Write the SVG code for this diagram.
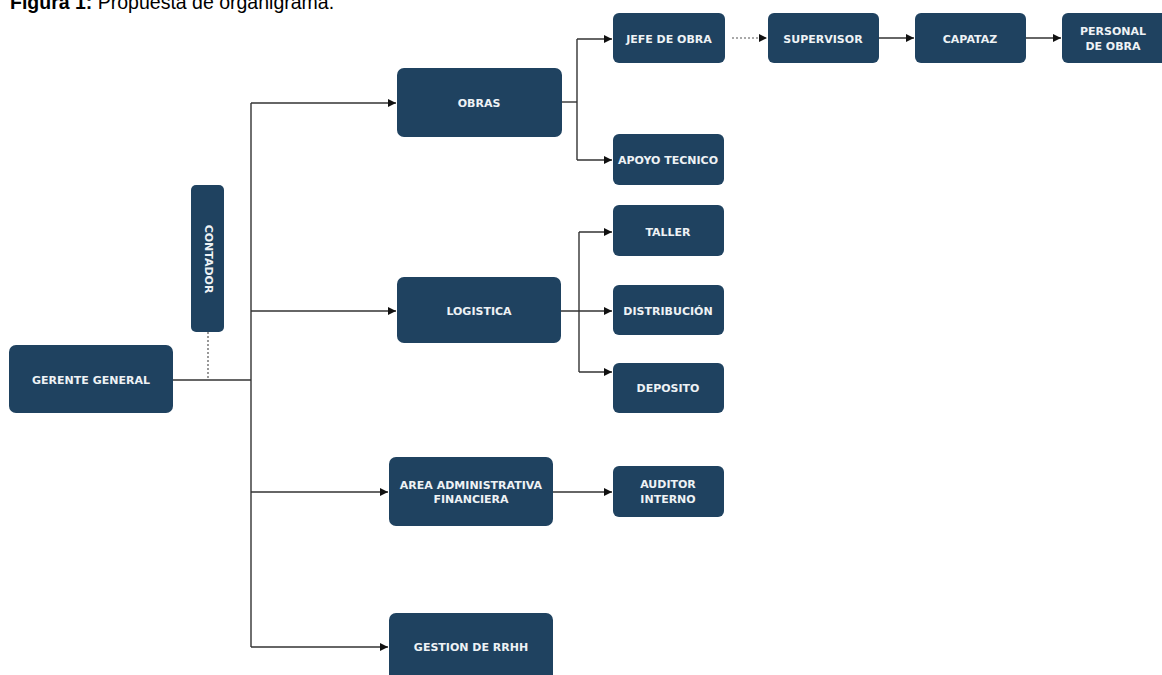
<svg xmlns="http://www.w3.org/2000/svg" width="1162" height="675" viewBox="0 0 1162 675">
<style>
.box{fill:#1f4260;}
.lbl{fill:#eef2f5;font-family:"DejaVu Sans",sans-serif;font-weight:bold;font-size:11px;text-anchor:middle;dominant-baseline:central;}
.ln{fill:none;stroke:#333;stroke-width:1.4;}
.dot{fill:none;stroke:#555;stroke-width:1.2;stroke-dasharray:2 2;}
.title{font-family:"Liberation Sans",Arial,sans-serif;font-size:19.5px;fill:#000;}
</style>
<defs>
<marker id="arr" markerUnits="userSpaceOnUse" markerWidth="9" markerHeight="8" refX="8" refY="4" orient="auto">
<path d="M0,0 L8,4 L0,8 z" fill="#111"/>
</marker>
</defs>
<rect width="1162" height="675" fill="#fff"/>
<text class="title" x="10" y="9"><tspan font-weight="bold">Figura 1:</tspan> Propuesta de organigrama.</text>

<g id="connectors">
<path class="dot" d="M208,332 V380"/>
<path class="ln" d="M173,380 H251"/>
<path class="ln" d="M251,103 V647"/>
<path class="ln" d="M251,103 H396" marker-end="url(#arr)"/>
<path class="ln" d="M251,311 H396" marker-end="url(#arr)"/>
<path class="ln" d="M251,492 H388" marker-end="url(#arr)"/>
<path class="ln" d="M251,647 H388" marker-end="url(#arr)"/>
<path class="ln" d="M562,102 H577"/>
<path class="ln" d="M577,39 V160"/>
<path class="ln" d="M577,39 H612" marker-end="url(#arr)"/>
<path class="ln" d="M577,160 H612" marker-end="url(#arr)"/>
<path class="ln" d="M561,311 H612" marker-end="url(#arr)"/>
<path class="ln" d="M579,232 V372"/>
<path class="ln" d="M579,232 H612" marker-end="url(#arr)"/>
<path class="ln" d="M579,372 H612" marker-end="url(#arr)"/>
<path class="ln" d="M553,492 H612" marker-end="url(#arr)"/>
<path class="dot" d="M732,38 H767" marker-end="url(#arr)"/>
<path class="ln" d="M879,38 H914" marker-end="url(#arr)"/>
<path class="ln" d="M1026,38 H1061" marker-end="url(#arr)"/>
</g>

<g id="gerente"><rect class="box" x="9" y="345" width="164" height="68" rx="7"/><text class="lbl" x="91" y="380">GERENTE GENERAL</text></g>
<g id="contador"><rect class="box" x="191" y="185" width="33" height="147" rx="5"/><text class="lbl" transform="translate(208,259) rotate(90)">CONTADOR</text></g>
<g id="obras"><rect class="box" x="397" y="68" width="165" height="69" rx="7"/><text class="lbl" x="479" y="103">OBRAS</text></g>
<g id="logistica"><rect class="box" x="397" y="277" width="164" height="66" rx="7"/><text class="lbl" x="479" y="311">LOGISTICA</text></g>
<g id="area"><rect class="box" x="389" y="457" width="164" height="69" rx="7"/><text class="lbl" x="471" y="485">AREA ADMINISTRATIVA</text><text class="lbl" x="471" y="499">FINANCIERA</text></g>
<g id="gestion"><rect class="box" x="389" y="613" width="164" height="69" rx="7"/><text class="lbl" x="471" y="647">GESTION DE RRHH</text></g>
<g id="jefe"><rect class="box" x="613" y="13" width="112" height="50" rx="6"/><text class="lbl" x="669" y="39">JEFE DE OBRA</text></g>
<g id="supervisor"><rect class="box" x="768" y="13" width="111" height="50" rx="6"/><text class="lbl" x="823" y="39">SUPERVISOR</text></g>
<g id="capataz"><rect class="box" x="915" y="13" width="111" height="50" rx="6"/><text class="lbl" x="970" y="39">CAPATAZ</text></g>
<g id="personal"><rect class="box" x="1062" y="13" width="110" height="50" rx="6"/><text class="lbl" x="1113" y="31">PERSONAL</text><text class="lbl" x="1113" y="46">DE OBRA</text></g>
<g id="apoyo"><rect class="box" x="613" y="134" width="111" height="51" rx="6"/><text class="lbl" x="668" y="160">APOYO TECNICO</text></g>
<g id="taller"><rect class="box" x="613" y="205" width="111" height="51" rx="6"/><text class="lbl" x="668" y="232">TALLER</text></g>
<g id="distribucion"><rect class="box" x="613" y="285" width="111" height="50" rx="6"/><text class="lbl" x="668" y="311">DISTRIBUCIÓN</text></g>
<g id="deposito"><rect class="box" x="613" y="363" width="111" height="50" rx="6"/><text class="lbl" x="668" y="388">DEPOSITO</text></g>
<g id="auditor"><rect class="box" x="613" y="466" width="111" height="51" rx="6"/><text class="lbl" x="668" y="484">AUDITOR</text><text class="lbl" x="668" y="499">INTERNO</text></g>
</svg>
